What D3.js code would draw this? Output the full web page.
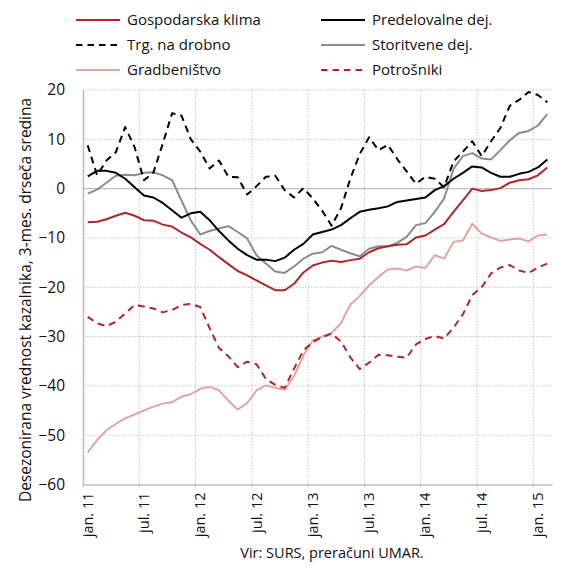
<!DOCTYPE html>
<html><head><meta charset="utf-8">
<script src="https://cdnjs.cloudflare.com/ajax/libs/d3/7.8.5/d3.min.js"></script>
<style>body{margin:0;background:#fff}svg{display:block}text{font-family:"Open Sans","Noto Sans",sans-serif;fill:#111}</style>
</head><body><svg id="c" width="561" height="566"></svg>
<script>
const months = ["jan","feb","mar","apr","maj","jun","jul","avg","sep","okt","nov","dec"];
const categories = [];
for (let y = 11; y <= 15; y++) for (let m = 0; m < 12; m++) { if (y === 15 && m > 1) break; categories.push(months[m] + ". " + y); }
const tickLabels = ["jan. 11","jul. 11","jan. 12","jul. 12","jan. 13","jul. 13","jan. 14","jul. 14","jan. 15"];
const yTicks = [20,10,0,-10,-20,-30,-40,-50,-60];

const klima = [-6.8,-6.7,-6.2,-5.5,-4.9,-5.5,-6.4,-6.5,-7.3,-7.7,-8.9,-9.9,-11.2,-12.4,-13.9,-15.3,-16.7,-17.6,-18.6,-19.6,-20.6,-20.6,-19.3,-17.0,-15.6,-15.0,-14.6,-14.9,-14.5,-14.2,-12.9,-12.1,-11.7,-11.4,-11.3,-9.9,-9.5,-8.3,-7.2,-4.7,-2.4,0.0,-0.5,-0.3,0.1,1.2,1.7,1.9,2.7,4.3];
const predelovalne = [2.5,3.6,3.6,3.2,2.0,0.3,-1.4,-1.8,-2.9,-4.4,-5.9,-5.0,-4.7,-6.4,-8.6,-10.5,-12.2,-13.5,-14.4,-14.4,-14.7,-14.0,-12.4,-11.2,-9.3,-8.8,-8.3,-7.4,-6.0,-4.7,-4.3,-4.0,-3.6,-2.7,-2.4,-2.1,-1.8,-0.3,0.5,2.0,3.2,4.5,4.3,3.2,2.4,2.4,3.0,3.4,4.3,5.9];
const trgovina = [8.8,2.7,5.7,7.4,12.5,8.4,1.7,3.2,9.1,15.3,14.8,10.0,7.5,4.1,5.7,2.4,2.3,-1.2,0.5,2.4,2.6,-0.3,-1.8,0.1,-2.0,-4.5,-7.5,-4.0,2.0,7.0,10.4,7.8,8.9,6.0,3.5,1.0,2.4,2.0,0.3,5.5,7.5,9.6,6.6,9.6,12.3,16.8,18.0,19.6,19.0,17.5];
const storitve = [-1.0,-0.2,1.2,2.6,2.8,2.7,3.2,3.3,2.7,1.7,-2.4,-6.5,-9.3,-8.6,-8.1,-7.6,-8.8,-10.1,-13.5,-15.2,-16.8,-17.1,-15.8,-14.2,-13.2,-12.9,-11.6,-12.4,-13.1,-13.7,-12.2,-11.7,-11.7,-11.0,-9.8,-7.4,-7.0,-4.7,-2.0,4.0,6.6,7.2,6.1,5.9,7.8,9.8,11.3,11.7,12.8,15.1];
const gradbenistvo = [-53.5,-51.0,-49.0,-47.7,-46.6,-45.8,-45.0,-44.2,-43.6,-43.3,-42.2,-41.7,-40.6,-40.2,-40.9,-43.0,-44.8,-43.5,-40.9,-39.9,-40.4,-40.8,-38.0,-33.8,-30.8,-30.0,-29.3,-27.3,-23.5,-21.8,-19.6,-17.9,-16.4,-16.2,-16.6,-15.8,-16.1,-13.5,-14.2,-10.8,-10.5,-7.1,-9.1,-9.9,-10.6,-10.3,-10.1,-10.7,-9.5,-9.3];
const potrosniki = [-26.0,-27.3,-27.9,-27.0,-25.3,-23.6,-23.9,-24.3,-25.1,-24.6,-23.6,-23.4,-24.0,-28.3,-32.3,-34.0,-36.2,-35.1,-35.6,-38.6,-39.8,-40.4,-36.5,-32.8,-31.1,-30.1,-29.4,-31.0,-34.2,-36.6,-35.3,-33.7,-33.8,-34.1,-34.3,-31.6,-30.5,-29.9,-30.4,-28.2,-25.5,-21.6,-20.0,-17.2,-16.0,-15.5,-16.6,-17.1,-16.0,-15.2];

const series = [
  {name:"Gospodarska klima", values:klima, color:"#b0252b", dash:null},
  {name:"Predelovalne dej.", values:predelovalne, color:"#000000", dash:null},
  {name:"Trg. na drobno", values:trgovina, color:"#000000", dash:"7,5"},
  {name:"Storitvene dej.", values:storitve, color:"#8c8c8c", dash:null},
  {name:"Gradbeništvo", values:gradbenistvo, color:"#e3a3a3", dash:null},
  {name:"Potrošniki", values:potrosniki, color:"#b0252b", dash:"7,5"}
];

const svg = d3.select("#c");
const L = 83, R = 552, T = 90, B = 484.5;
const x = d3.scaleBand().domain(categories).range([L, R]);
const y = d3.scaleLinear().domain([-60, 20]).range([B, T]);
const cx = c => x(c) + x.bandwidth()/2;

// horizontal grid
svg.append("g").selectAll("line").data(yTicks.filter(v => v !== -60 && v !== 0)).join("line")
  .attr("x1", L).attr("x2", R).attr("y1", d => y(d)).attr("y2", d => y(d))
  .attr("stroke", "#c4c4c4").attr("stroke-width", 1).attr("stroke-dasharray", "1.5,1.5");
// vertical grid at 6-month boundaries
const vIdx = d3.range(6, categories.length, 6);
svg.append("g").selectAll("line").data(vIdx).join("line")
  .attr("x1", d => x(categories[d])).attr("x2", d => x(categories[d]))
  .attr("y1", T).attr("y2", B)
  .attr("stroke", "#c4c4c4").attr("stroke-width", 1).attr("stroke-dasharray", "1.5,1.5");
// zero line
svg.append("line").attr("x1", L).attr("x2", R).attr("y1", y(0)).attr("y2", y(0))
  .attr("stroke", "#bdbdbd").attr("stroke-width", 1.3);

// axes
const yAxis = d3.axisLeft(y).tickValues(yTicks).tickSize(0).tickPadding(18);
const gy = svg.append("g").attr("transform", `translate(${L},0)`).call(yAxis);
gy.select(".domain").attr("stroke", "#bdbdbd").attr("stroke-width", 1.5);
gy.selectAll("text").style("font-size", "15.5px").attr("fill", "#111");

const xAxis = d3.axisBottom(x).tickValues(tickLabels).tickSize(0).tickFormat(d => d);
const gx = svg.append("g").attr("transform", `translate(0,${B})`).call(xAxis);
gx.select(".domain").attr("stroke", "#bdbdbd").attr("stroke-width", 1.5);
gx.selectAll("text").style("font-size", "14.5px").attr("fill", "#111")
  .attr("transform", "rotate(-90)").attr("text-anchor", "end")
  .attr("x", -8).attr("y", 0).attr("dy", "0.35em");
// small tick marks at boundaries
svg.append("g").selectAll("line").data(vIdx.concat([0])).join("line")
  .attr("x1", d => x(categories[d])).attr("x2", d => x(categories[d]))
  .attr("y1", B).attr("y2", B + 3).attr("stroke", "#bdbdbd");

// lines
const line = d3.line().x((d, i) => cx(categories[i])).y(d => y(d));
const drawOrder = [4, 5, 3, 2, 1, 0];
svg.append("g").selectAll("path").data(drawOrder.map(i => series[i])).join("path")
  .attr("d", d => line(d.values)).attr("fill", "none")
  .attr("stroke", d => d.color).attr("stroke-width", 2)
  .attr("stroke-dasharray", d => d.dash).attr("stroke-linejoin", "round");

// legend
const legendPos = [[76,20],[321,20],[76,45],[321,45],[76,70],[321,70]];
const lg = svg.append("g").selectAll("g").data(series).join("g")
  .attr("transform", (d, i) => `translate(${legendPos[i][0]},${legendPos[i][1]})`);
lg.append("line").attr("x1", 0).attr("x2", 44).attr("y1", 0).attr("y2", 0)
  .attr("stroke", d => d.color).attr("stroke-width", 2).attr("stroke-dasharray", d => d.dash ? "6.5,5" : null);
lg.append("text").attr("x", 51).attr("y", 0).attr("dy", "0.35em").style("font-size", "15px").text(d => d.name);

// y title
svg.append("text").attr("transform", "translate(26,300) rotate(-90)").attr("text-anchor", "middle")
  .attr("dy", "0.35em").style("font-size", "15.5px").text("Desezonirana vrednost kazalnika, 3-mes. drseča sredina");
// source
svg.append("text").attr("x", 332).attr("y", 553).attr("text-anchor", "middle").attr("dy", "0.35em")
  .style("font-size", "14.5px").text("Vir: SURS, preračuni UMAR.");
</script></body></html>
